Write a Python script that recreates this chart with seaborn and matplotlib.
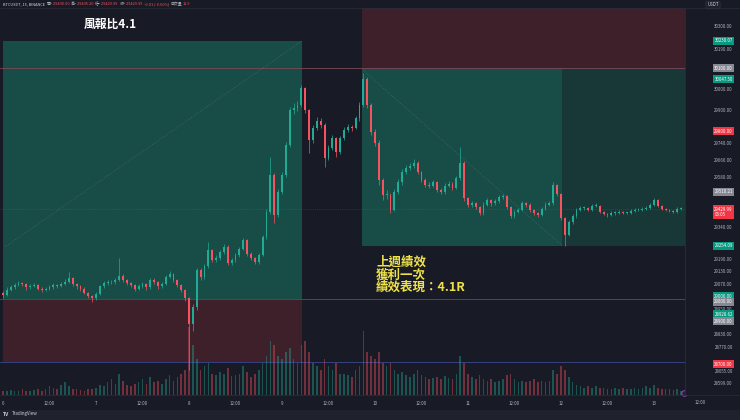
import matplotlib
matplotlib.use('Agg')
import matplotlib.pyplot as plt
from matplotlib.patches import Rectangle
import seaborn as sns
import numpy as np

# ---------------- data (hourly candles, BTCUSDT) ----------------
first_open = 29030
closes = [
    29020, 29045, 29055, 29065, 29075, 29070, 29055, 29060, 29065, 29050,
    29045, 29048, 29055, 29065, 29060, 29070, 29080, 29100, 29070, 29060,
    29050, 29030, 29015, 29005, 29025, 29060, 29075, 29080, 29080, 29090,
    29110, 29090, 29075, 29065, 29050, 29060, 29070, 29055, 29090, 29080,
    29060, 29070, 29105, 29120, 29090, 29065, 29045, 29005, 28880, 28960,
    29140, 29105, 29155, 29235, 29185, 29195, 29225, 29250, 29170, 29185,
    29210, 29240, 29280, 29215, 29195, 29175, 29210, 29295, 29415, 29590,
    29400, 29510, 29590, 29735, 29900, 29910, 29925, 30005, 29900, 29755,
    29815, 29850, 29830, 29670, 29720, 29765, 29700, 29765, 29805, 29820,
    29815, 29860, 29925, 30050, 29925, 29795, 29745, 29565, 29495, 29495,
    29425, 29510, 29555, 29605, 29625, 29635, 29650, 29605, 29565, 29545,
    29540, 29555, 29520, 29510, 29540, 29550, 29530, 29575, 29650, 29480,
    29450, 29455, 29440, 29410, 29450, 29470, 29455, 29465, 29485, 29490,
    29440, 29395, 29415, 29425, 29455, 29450, 29425, 29410, 29400, 29430,
    29450, 29455, 29545, 29500, 29385, 29305, 29365, 29395, 29425, 29435,
    29435, 29425, 29445, 29445, 29415, 29405, 29400, 29410, 29410, 29415,
    29410, 29410, 29420, 29425, 29425, 29430, 29435, 29450, 29470, 29445,
    29430, 29425, 29420, 29415, 29430, 29430,
]
highs = [
    29040, 29055, 29065, 29075, 29085, 29082, 29075, 29070, 29078, 29070,
    29058, 29058, 29065, 29075, 29072, 29082, 29095, 29130, 29105, 29078,
    29066, 29055, 29035, 29020, 29032, 29068, 29085, 29090, 29092, 29100,
    29195, 29118, 29095, 29082, 29070, 29070, 29080, 29078, 29100, 29098,
    29085, 29080, 29115, 29135, 29125, 29095, 29070, 29050, 29010, 28975,
    29150, 29150, 29165, 29270, 29240, 29210, 29235, 29262, 29255, 29195,
    29220, 29250, 29290, 29285, 29222, 29200, 29220, 29305, 29430, 29675,
    29600, 29525, 29605, 29750, 29915, 29935, 29945, 30020, 30010, 29905,
    29830, 29865, 29862, 29838, 29735, 29780, 29772, 29778, 29818, 29835,
    29830, 29872, 29940, 30075, 30058, 29935, 29810, 29755, 29575, 29520,
    29505, 29522, 29570, 29618, 29640, 29650, 29665, 29658, 29612, 29575,
    29555, 29568, 29562, 29528, 29552, 29562, 29558, 29588, 29725, 29658,
    29488, 29468, 29462, 29445, 29460, 29482, 29478, 29475, 29495, 29500,
    29495, 29445, 29425, 29435, 29465, 29462, 29455, 29430, 29415, 29440,
    29460, 29465, 29555, 29550, 29505, 29392, 29375, 29405, 29435, 29445,
    29445, 29440, 29452, 29455, 29450, 29420, 29410, 29418, 29418, 29422,
    29420, 29416, 29427, 29432, 29432, 29437, 29442, 29458, 29480, 29475,
    29450, 29435, 29430, 29425, 29436, 29437,
]
lows = [
    29005, 29015, 29038, 29048, 29060, 29062, 29045, 29048, 29055, 29042,
    29035, 29038, 29042, 29050, 29052, 29055, 29065, 29075, 29062, 29050,
    29040, 29022, 29005, 28985, 28995, 29018, 29052, 29068, 29070, 29072,
    29085, 29080, 29065, 29055, 29040, 29042, 29052, 29045, 29050, 29070,
    29050, 29052, 29065, 29098, 29080, 29055, 29035, 28990, 28660, 28850,
    28950, 29090, 29095, 29148, 29175, 29178, 29188, 29215, 29160, 29160,
    29178, 29202, 29232, 29205, 29185, 29165, 29168, 29205, 29288, 29405,
    29360, 29392, 29500, 29580, 29725, 29880, 29895, 29915, 29885, 29695,
    29745, 29805, 29815, 29630, 29660, 29710, 29675, 29692, 29755, 29795,
    29800, 29808, 29850, 29915, 29910, 29780, 29730, 29545, 29470, 29475,
    29410, 29418, 29500, 29545, 29595, 29615, 29625, 29595, 29555, 29535,
    29528, 29532, 29510, 29500, 29502, 29532, 29520, 29522, 29568, 29465,
    29440, 29440, 29430, 29398, 29402, 29442, 29445, 29448, 29458, 29478,
    29430, 29385, 29388, 29408, 29418, 29440, 29415, 29400, 29390, 29395,
    29422, 29442, 29450, 29490, 29375, 29254, 29298, 29358, 29388, 29418,
    29425, 29418, 29420, 29438, 29408, 29398, 29392, 29395, 29402, 29405,
    29404, 29403, 29405, 29415, 29418, 29420, 29425, 29430, 29445, 29440,
    29425, 29418, 29414, 29410, 29410, 29424,
]
volume = [
    6, 5, 7, 6, 5, 8, 6, 5, 7, 9, 6, 8, 12, 10, 8, 14,
    18, 12, 9, 8, 7, 6, 9, 8, 10, 14, 12, 18, 22, 16, 30,
    20, 14, 12, 16, 18, 22, 15, 25, 18, 20, 16, 22, 28, 20, 25, 30, 35,
    95, 70,
    50, 35, 40, 45, 30, 28, 32, 30, 38, 26, 28, 30, 40, 32, 25, 30, 35, 45,
    55, 75, 70, 55, 50, 60, 65, 50, 45, 70, 75, 60,
    45, 40, 35, 50, 40, 35, 45, 30, 30, 28, 25, 35, 40, 90, 60, 55, 50, 60, 45, 40,
    45, 35, 30, 32, 28, 25, 30, 35, 28, 25, 22, 24, 25, 22, 26, 24, 22, 30, 55, 45,
    30, 25, 22, 28, 22, 20, 22, 18, 20, 22, 28, 30, 22, 18, 20, 18, 20, 22, 18, 20,
    18, 20, 35, 30, 40, 35,
    25, 18, 14, 12, 10, 12, 10, 12, 10, 10, 8, 9, 10, 8, 10, 8, 9, 10, 8, 10,
    12, 10, 14, 10, 8, 9, 8, 7, 8, 6,
]

time_ticks = [0, 12, 24, 36, 48, 60, 72, 84, 96, 108, 120, 132, 144, 156, 168]
time_labels = ['6', '12:00', '7', '12:00', '8', '12:00', '9', '12:00',
               '10', '12:00', '11', '12:00', '12', '12:00', '13']
scale_ticks = [30300, 30190, 30000, 29900, 29740, 29660, 29580, 29340,
               29190, 29130, 29070, 28950, 28830, 28770, 28655, 28599]

# long position (left) and short position (right)
long_start, long_end = 0, 77.2
long_entry, long_target, long_stop = 29000.0, 30230.07, 28700.0
short_start, short_hit, short_end = 92.6, 144.3, 176.0
short_entry, short_target, short_stop = 30100.0, 29254.09, 30600.0
last_price = 29429.99

# right scale price tags: (value shown, position, colour key)
tags = [
    ('30230.07', 30230.07, 'g'), ('30100.00', 30100.0, 'k'), ('30047.50', 30047.5, 'g'),
    ('29800.00', 29800.0, 'r'), ('29510.21', 29510.21, 'k'), ('29254.09', 29254.09, 'g'),
    ('29000.00', 29012, 'g'), ('29000.00', 28988, 'k'), ('28928.62', 28928.62, 'g'),
    ('28900.00', 28895, 'k'), ('28700.00', 28690, 'r'),
]

# ---------------- style ----------------
PANE = '#181b26'
UP, DOWN = '#22ab94', '#f7525f'
TXT = '#b2b5be'
TAGC = {'g': '#089981', 'r': '#f23645', 'k': '#868993'}

sns.set_theme(style='dark', rc={'axes.facecolor': PANE, 'figure.facecolor': PANE})
plt.rcParams['font.family'] = ['Noto Sans CJK TC', 'DejaVu Sans']

W, H = 740, 420
fig = plt.figure(figsize=(7.4, 4.2), dpi=100)
fig.patch.set_facecolor(PANE)
ylim = (28543, 30386)

ax = fig.add_axes([0, 25 / H, 685 / W, 387 / H])
ax.set_facecolor(PANE)
ax.set_xlim(-0.77, 176.0)
ax.set_ylim(*ylim)
for s in ax.spines.values():
    s.set_visible(False)

# position boxes
ax.fill_between([long_start, long_end], long_entry, long_target, color='#184c46', lw=0, zorder=0.5)
ax.fill_between([long_start, long_end], long_stop, long_entry, color='#3e202a', lw=0, zorder=0.5)
ax.fill_between([short_start, short_end], short_entry, short_stop, color='#3e202a', lw=0, zorder=0.5)
ax.fill_between([short_start, short_hit], short_target, short_entry, color='#184c46', lw=0, zorder=0.5)
ax.fill_between([short_hit, short_end], short_target, short_entry, color='#183838', lw=0, zorder=0.5)

# horizontal levels
ax.axhline(30100, color='#7c4856', lw=0.6, zorder=1)
ax.axhline(29000, color='#3b478f', lw=0.7, zorder=1)
ax.axhline(28700, color='#3b478f', lw=0.6, zorder=1)
ax.axhline(last_price, color=DOWN, lw=0.5, ls=(0, (1, 2)), alpha=0.4, zorder=1)

# trade path dotted lines
ax.plot([0.5, long_end], [29248, long_target], color='#9aa0a8', lw=0.5, ls=(0, (1, 2)), alpha=0.45, zorder=1)
ax.plot([92.9, short_hit], [30090, short_target], color='#9aa0a8', lw=0.5, ls=(0, (1, 2)), alpha=0.45, zorder=1)

# candles
hrs = np.arange(len(closes))
c_arr = np.array(closes, dtype=float)
o_arr = np.array([first_open] + closes[:-1], dtype=float)
up = c_arr >= o_arr
cols = np.where(up, UP, DOWN)
ax.vlines(hrs, lows, highs, colors=cols, linewidth=0.5, zorder=3)
body = np.maximum(np.abs(c_arr - o_arr), 3)
ax.bar(hrs, body, bottom=np.minimum(o_arr, c_arr), width=0.5, color=cols, linewidth=0, zorder=4)

ax.set_xticks(time_ticks)
ax.set_xticklabels(time_labels)
ax.set_yticks([])
ax.tick_params(axis='x', length=0, pad=4.5, labelsize=3.2, colors=TXT)

# volume
axv = ax.twinx()
axv.set_ylim(0, 540)
axv.bar(hrs, volume, width=0.4, color=cols, alpha=0.4, linewidth=0)
axv.set_yticks([])
for s in axv.spines.values():
    s.set_visible(False)

# annotations
ax.text(27.6, 30310, '風報比4.1', fontsize=8.5, color='white', fontweight='bold',
        ha='center', va='center', zorder=6)
yellow = '#efe14a'
for i, line in enumerate(['上週績效', '獲利一次', '績效表現：4.1R']):
    ax.text(96.3, 29173 - i * 59, line, fontsize=9, color=yellow, fontweight='bold',
            ha='left', va='center', zorder=6)

# right price scale
axr = fig.add_axes([685 / W, 25 / H, 55 / W, 387 / H])
axr.set_facecolor(PANE)
axr.set_xlim(0, 1)
axr.set_ylim(*ylim)
axr.set_xticks([])
axr.set_yticks([])
for s in axr.spines.values():
    s.set_visible(False)
axr.axvline(0, color='#2a2e39', lw=0.6)
for v in scale_ticks:
    axr.text(0.87, v, f'{v:.2f}', ha='right', va='center', fontsize=3.2, color=TXT)
for label, pos, key in tags:
    axr.text(0.87, pos, label, ha='right', va='center', fontsize=3.2, color='white',
             bbox=dict(boxstyle='square,pad=0.35', fc=TAGC[key], ec='none'))
axr.text(0.87, last_price + 9, '29429.99\n03:05', ha='right', va='top', fontsize=3.2,
         color='white', multialignment='left', linespacing=1.1,
         bbox=dict(boxstyle='square,pad=0.35', fc=TAGC['r'], ec='none'))

# frame lines and strips
fig.add_artist(plt.Line2D([0, 1], [1 - 8 / H, 1 - 8 / H], color='#2a2e39', lw=0.5))
fig.add_artist(plt.Line2D([0, 1], [25 / H, 25 / H], color='#2a2e39', lw=0.5))
fig.add_artist(Rectangle((0, 0), 1, 10 / H, transform=fig.transFigure, color='#1f222d', lw=0))
fig.text(700 / W, 1 - 403 / H, '12:00', fontsize=3.2, color=TXT, ha='center', va='center')
fig.text(3 / W, 1 - 414 / H, 'TV', fontsize=3.6, color='#d1d4dc', fontweight='bold', va='center')
fig.text(12 / W, 1 - 414 / H, 'TradingView', fontsize=3.2, color='#d1d4dc', va='center')
fig.text(713 / W, 1 - 5 / H, 'USDT', fontsize=3.2, color='#d1d4dc', ha='center', va='center',
         bbox=dict(boxstyle='round,pad=0.3', fc='#1f222d', ec='#363a45', lw=0.4))
ax.plot([684 / W], [1 - 393 / H], 'o', transform=fig.transFigure, ms=4,
        mfc='#2b1f3d', mec='#a04fd0', mew=0.6, clip_on=False, zorder=7)

# header legend
pieces = [('BTCUSDT, 15, BINANCE  ', '#d1d4dc'), ('開=', TXT), ('29430.00  ', DOWN),
          ('高=', TXT), ('29435.20  ', DOWN), ('低=', TXT), ('29429.99  ', DOWN),
          ('收=', TXT), ('29429.99  ', DOWN), ('-0.01 (-0.00%)  ', DOWN),
          ('成交量', TXT), ('11.9', DOWN)]
t = fig.text(3 / W, 1 - 4 / H, pieces[0][0], fontsize=2.8, color=pieces[0][1], va='center')
for s, c in pieces[1:]:
    t = ax.annotate(s, xy=(1, 0.5), xycoords=t, va='center', ha='left',
                    fontsize=2.8, color=c, annotation_clip=False)

fig.savefig('out.png', dpi=100, facecolor=fig.get_facecolor())
